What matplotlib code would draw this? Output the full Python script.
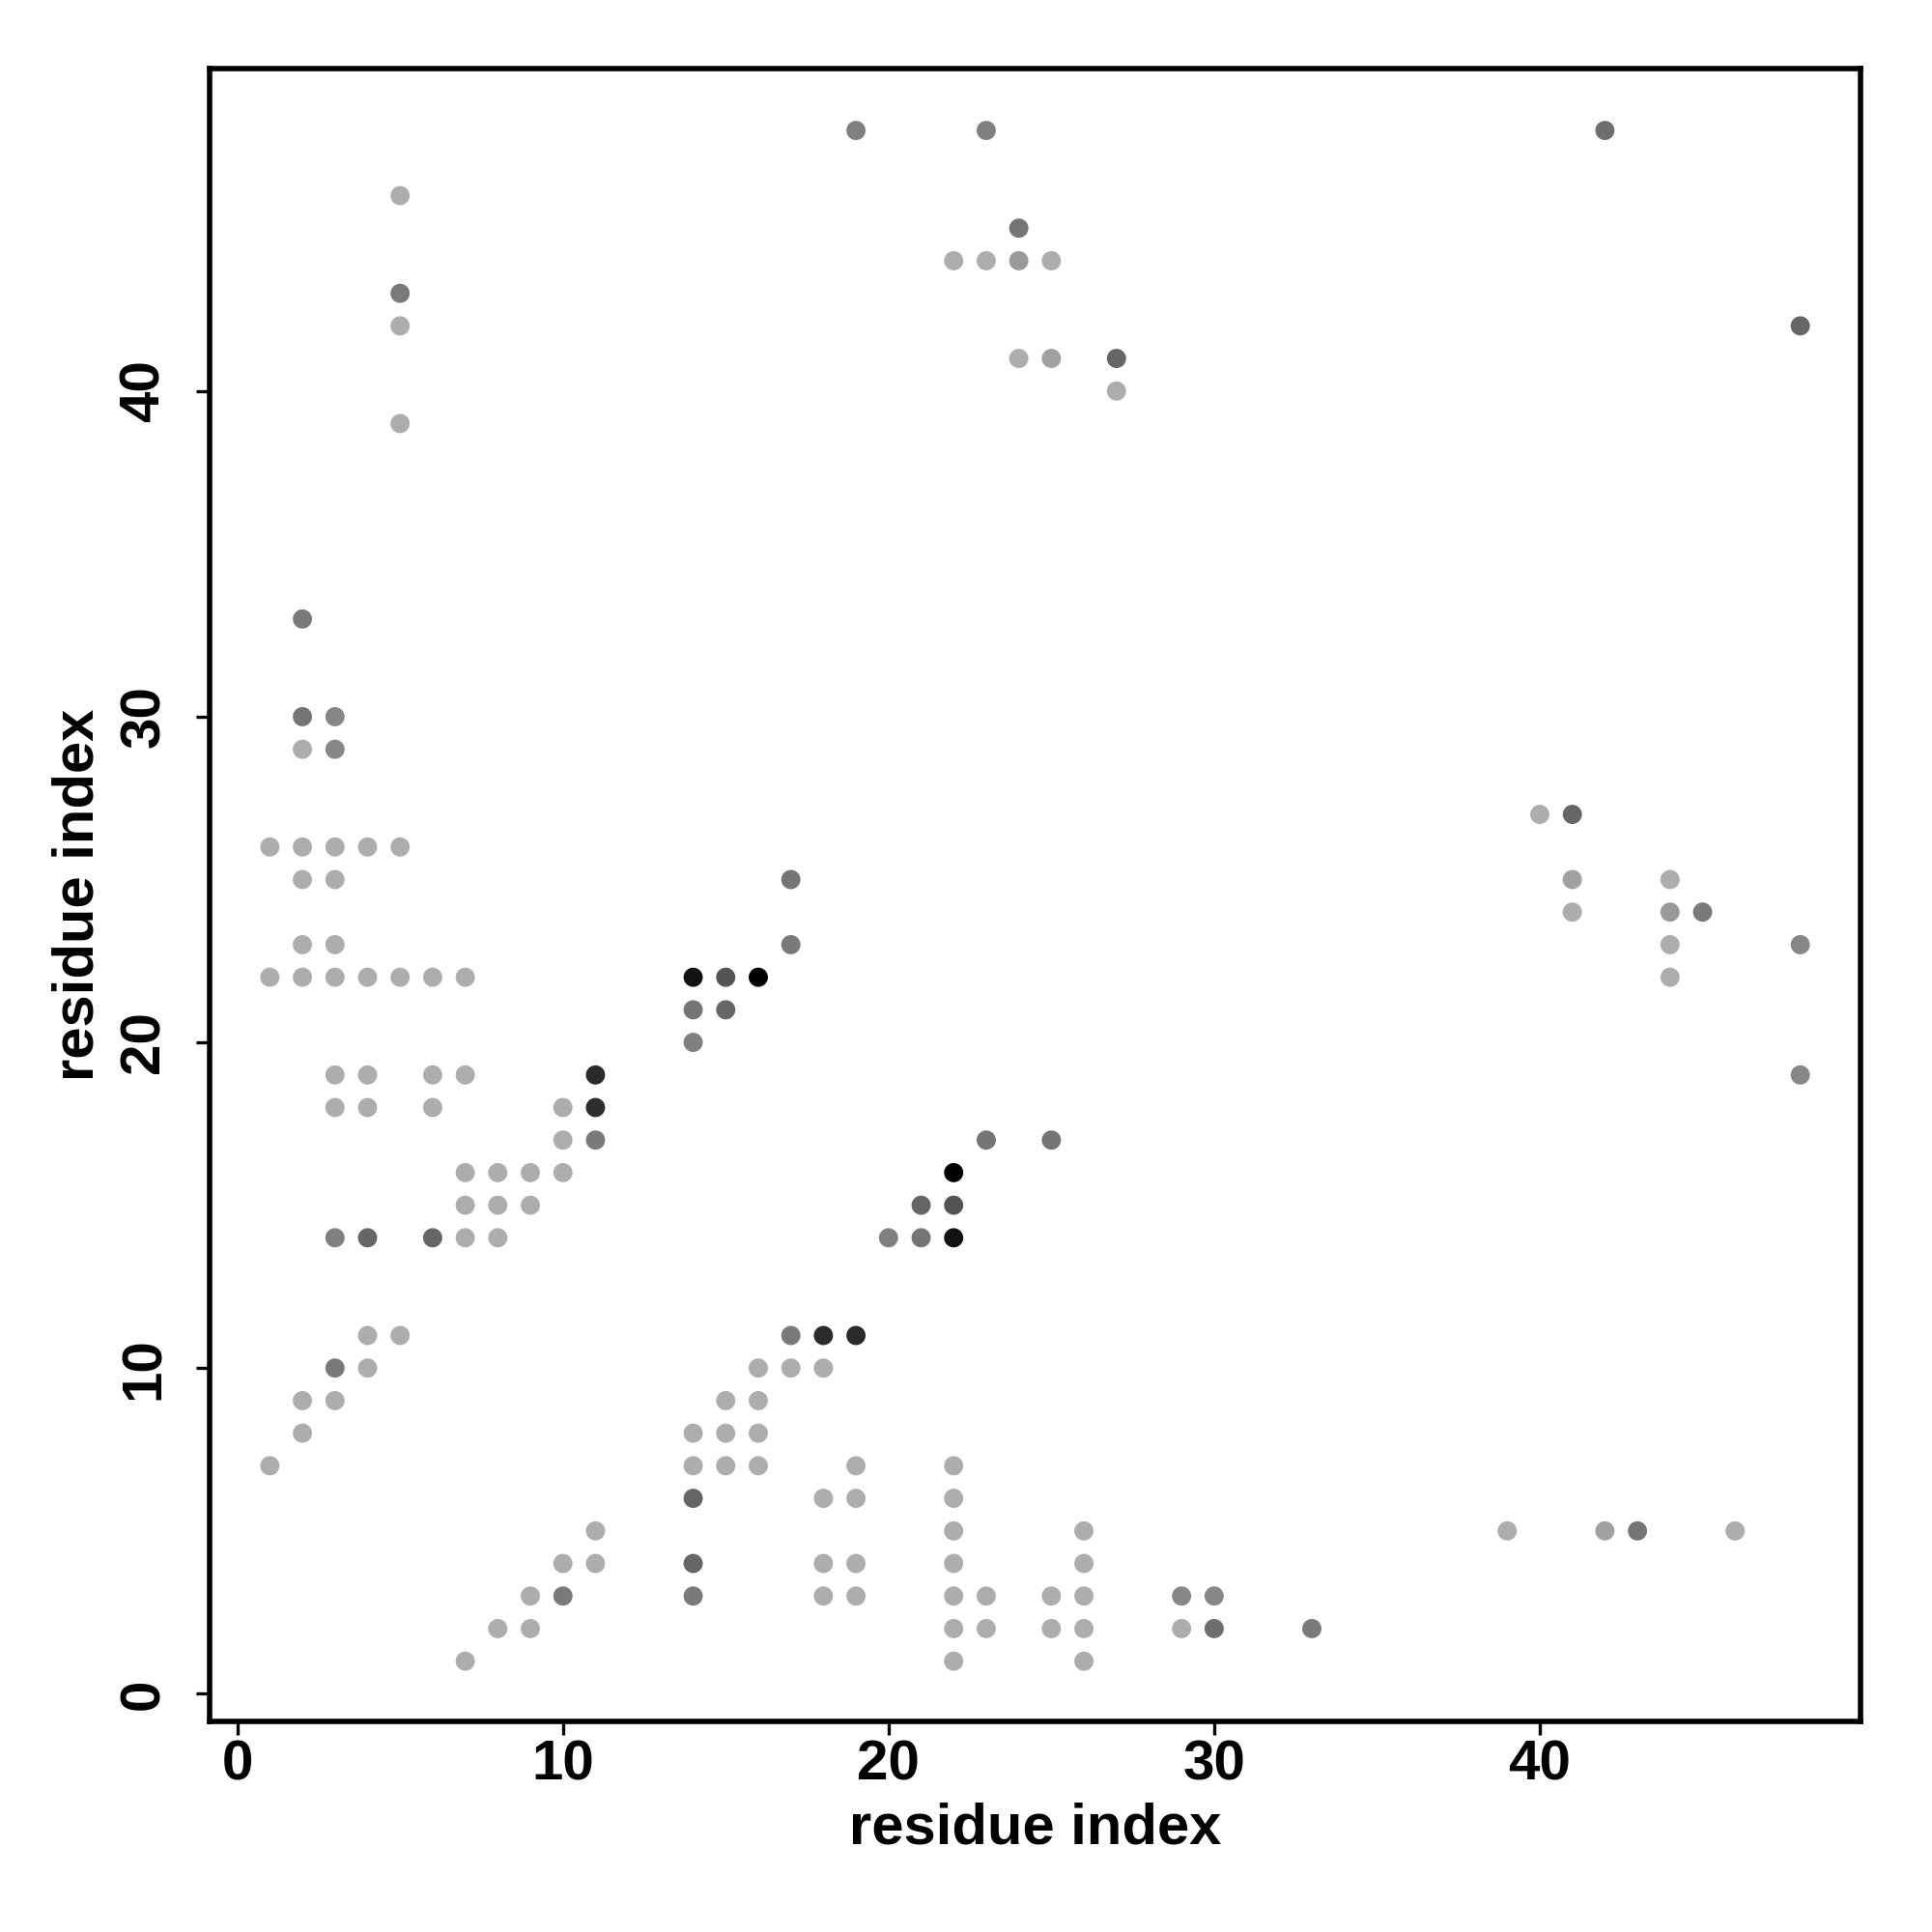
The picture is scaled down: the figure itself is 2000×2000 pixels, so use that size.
import numpy as np
import matplotlib
matplotlib.use("Agg")
import matplotlib.pyplot as plt

# contact map points: residue i, residue j, grey level (0 = black, 1 = white)
L = 0.68
res_x = [1, 1, 1,
         2, 2, 2, 2, 2, 2, 2, 2, 2,
         3, 3, 3, 3, 3, 3, 3, 3, 3, 3, 3,
         4, 4, 4, 4, 4, 4, 4,
         5, 5, 5, 5, 5, 5, 5,
         6, 6, 6, 6,
         7, 7, 7, 7, 7, 7,
         8, 8, 8, 8,
         9, 9, 9, 9,
         10, 10, 10, 10, 10,
         11, 11, 11, 11, 11,
         14, 14, 14, 14, 14, 14, 14, 14,
         15, 15, 15, 15, 15,
         16, 16, 16, 16, 16,
         17, 17, 17, 17,
         18, 18, 18, 18, 18,
         19, 19, 19, 19, 19, 19,
         20,
         21, 21,
         22, 22, 22, 22, 22, 22, 22, 22, 22, 22, 22,
         23, 23, 23, 23, 23,
         24, 24, 24,
         25, 25, 25, 25, 25,
         26, 26, 26, 26, 26,
         27, 27,
         29, 29,
         30, 30,
         33,
         39,
         40,
         41, 41, 41,
         42, 42,
         43,
         44, 44, 44, 44,
         45,
         46,
         48, 48, 48]
res_y = [7, 22, 26,
         8, 9, 22, 23, 25, 26, 29, 30, 33,
         9, 10, 14, 18, 19, 22, 23, 25, 26, 29, 30,
         10, 11, 14, 18, 19, 22, 26,
         11, 22, 26, 39, 42, 43, 46,
         14, 18, 19, 22,
         1, 14, 15, 16, 19, 22,
         2, 14, 15, 16,
         2, 3, 15, 16,
         3, 4, 16, 17, 18,
         4, 5, 17, 18, 19,
         3, 4, 6, 7, 8, 20, 21, 22,
         7, 8, 9, 21, 22,
         7, 8, 9, 10, 22,
         10, 11, 23, 25,
         3, 4, 6, 10, 11,
         3, 4, 6, 7, 11, 48,
         14,
         14, 15,
         1, 2, 3, 4, 5, 6, 7, 14, 15, 16, 44,
         2, 3, 17, 44, 48,
         41, 44, 45,
         2, 3, 17, 41, 44,
         1, 2, 3, 4, 5,
         40, 41,
         2, 3,
         2, 3,
         2,
         5,
         27,
         24, 25, 27,
         5, 48,
         5,
         22, 23, 24, 25,
         24,
         5,
         19, 23, 42]
shade = [L, L, L,
         L, L, L, L, L, L, L, 0.46, 0.48,
         L, 0.48, 0.50, L, L, L, L, L, L, 0.53, 0.53,
         L, L, 0.40, L, L, L, L,
         L, L, L, L, L, 0.48, L,
         0.40, L, L, L,
         L, L, L, L, L, L,
         L, L, L, L,
         L, L, L, L,
         0.48, L, L, L, L,
         L, L, 0.48, 0.18, 0.17,
         0.48, 0.40, 0.40, L, L, 0.50, 0.46, 0.07,
         L, L, L, 0.40, 0.33,
         L, L, L, L, 0.0,
         L, 0.48, 0.48, 0.46,
         L, L, L, L, 0.17,
         L, L, L, L, 0.17, 0.50,
         0.50,
         0.46, 0.40,
         L, L, L, L, L, L, L, 0.07, 0.33, 0.0, L,
         L, L, 0.46, L, 0.50,
         L, 0.60, 0.46,
         L, L, 0.46, 0.63, L,
         L, L, L, L, L,
         L, 0.40,
         L, 0.53,
         0.43, 0.53,
         0.48,
         L,
         L,
         L, 0.63, 0.40,
         0.63, 0.43,
         0.46,
         L, L, 0.60, L,
         0.48,
         L,
         0.53, 0.53, 0.40]

x_ticks = [0, 10, 20, 30, 40]
y_ticks = [0, 10, 20, 30, 40]

plt.rcParams['font.family'] = ['Liberation Sans', 'DejaVu Sans']
plt.rcParams['font.weight'] = 'bold'

fig = plt.figure(figsize=(20, 20), dpi=100)
ax = fig.add_axes([0.1085, 0.109, 0.8545, 0.8555])

colors = [(g, g, g) for g in shade]
ax.scatter(res_x, res_y, s=205, c=colors, edgecolors='none')

ax.set_xlim(-0.85, 49.85)
ax.set_ylim(-0.85, 49.9)
ax.set_xticks(x_ticks)
ax.set_yticks(y_ticks)
ax.set_xticklabels([str(t) for t in x_ticks], fontsize=42, fontweight='bold')
ax.set_yticklabels([str(t) for t in y_ticks], fontsize=42, fontweight='bold',
                   rotation=90, va='center')
ax.tick_params(axis='both', direction='out', length=10, width=2.4)
ax.tick_params(axis='x', pad=3)
ax.tick_params(axis='y', pad=19)

for sp in ax.spines.values():
    sp.set_linewidth(4)

ax.set_xlabel('residue index', fontsize=43, fontweight='bold')
ax.set_ylabel('residue index', fontsize=43, fontweight='bold')
ax.xaxis.set_label_coords(0.5, -0.049)
ax.yaxis.set_label_coords(-0.0635, 0.5)

fig.savefig('out.png', dpi=100, facecolor='white')
